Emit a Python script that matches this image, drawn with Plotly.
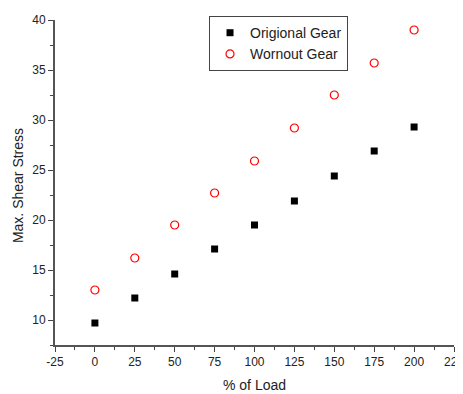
import plotly.graph_objects as go

load = [0, 25, 50, 75, 100, 125, 150, 175, 200]
original_gear = [9.7, 12.2, 14.6, 17.1, 19.5, 21.9, 24.4, 26.9, 29.3]
wornout_gear = [13.0, 16.2, 19.5, 22.7, 25.9, 29.2, 32.5, 35.7, 39.0]

x_ticks = [-25, 0, 25, 50, 75, 100, 125, 150, 175, 200, 225]
x_tick_labels = ["-25", "0", "25", "50", "75", "100", "125", "150", "175", "200", "225"]
y_ticks = [10, 15, 20, 25, 30, 35, 40]

fig = go.Figure()
fig.add_trace(go.Scatter(
    x=load, y=original_gear, mode="markers", name="Origional Gear",
    marker=dict(symbol="square", size=7, color="black", line=dict(width=0)),
))
fig.add_trace(go.Scatter(
    x=load, y=wornout_gear, mode="markers", name="Wornout Gear",
    marker=dict(symbol="circle-open", size=8, color="red", line=dict(width=1.2)),
))

axis_common = dict(
    showgrid=False, zeroline=False, showline=True, linecolor="#555555", linewidth=2,
    ticks="outside", ticklen=5, tickwidth=1.2, tickcolor="#444444", automargin=False,
    ticklabeloverflow="allow",
    tickfont=dict(family="Liberation Sans, Arial", size=12, color="#222222"),
    minor=dict(ticks="outside", ticklen=3, tickwidth=1.2, tickcolor="#444444"),
)

fig.update_layout(
    width=455, height=386,
    margin=dict(l=47, r=9, t=8, b=49),
    plot_bgcolor="white", paper_bgcolor="white",
    font=dict(family="Liberation Sans, Arial", size=13, color="#222222"),
    xaxis=dict(range=[-25, 225], tickvals=x_ticks, ticktext=x_tick_labels, **axis_common),
    yaxis=dict(range=[7.5, 40], tickvals=y_ticks, **axis_common),
    legend=dict(x=0.386, y=1.012, xanchor="left", yanchor="top",
                bordercolor="#444444", borderwidth=1, bgcolor="white",
                font=dict(size=14), itemwidth=30, tracegroupgap=0),
    showlegend=True,
    annotations=[
        dict(text="% of Load", xref="paper", yref="paper", x=0.5, y=-0.1216,
             xanchor="center", yanchor="middle", showarrow=False,
             font=dict(size=14, color="#222222")),
        dict(text="Max. Shear Stress", xref="paper", yref="paper", x=-0.0927, y=0.489,
             xanchor="center", yanchor="middle", showarrow=False, textangle=-90,
             font=dict(size=14, color="#222222")),
    ],
)
fig.update_xaxes(minor=dict(dtick=12.5, tick0=0))
fig.update_yaxes(minor=dict(dtick=2.5, tick0=0))

fig.write_html("out.html")
